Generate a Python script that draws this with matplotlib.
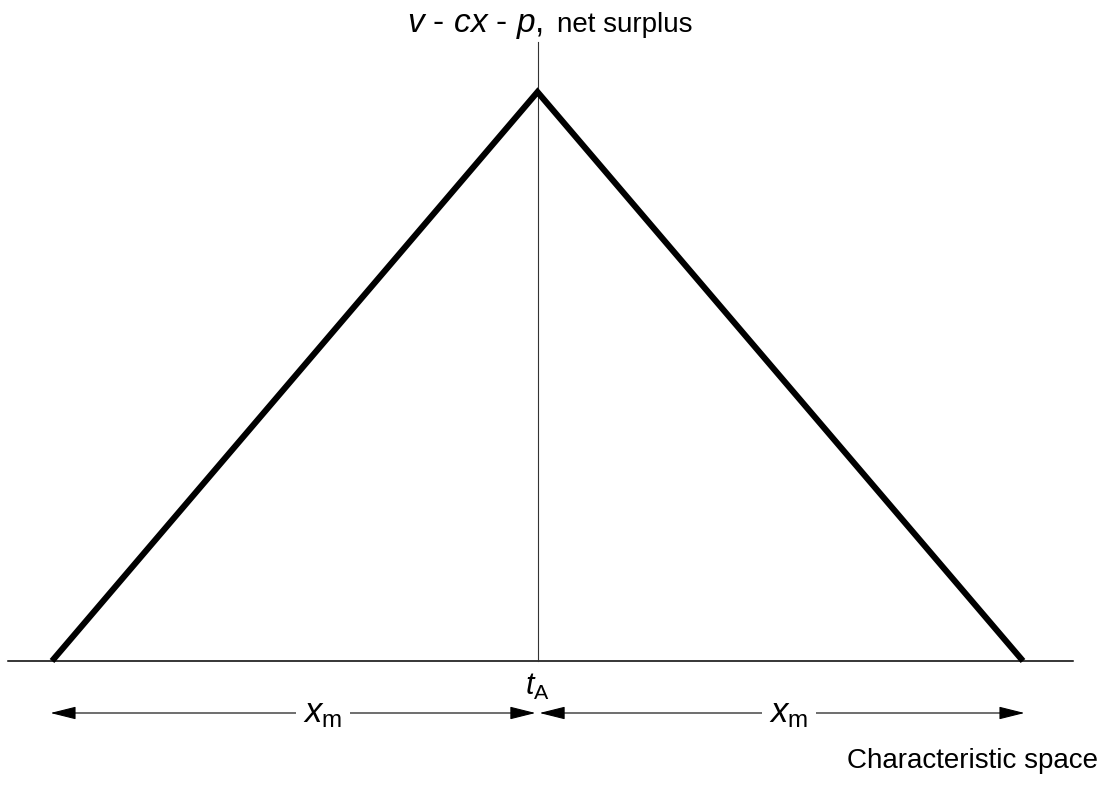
import matplotlib

matplotlib.use("Agg")
import matplotlib.pyplot as plt

"""
Net surplus of a consumer along the characteristic space around brand A
"""

plt.rcParams["font.family"] = ["Liberation Sans", "DejaVu Sans"]
plt.rcParams["mathtext.fontset"] = "custom"
plt.rcParams["mathtext.rm"] = "Liberation Sans"
plt.rcParams["mathtext.it"] = "Liberation Sans:italic"

# location of brand A and the market reach on each side
T_A = 0.0
X_M = 1.0
# net surplus at the brand location
PEAK = 1.0

surplus_x = [T_A - X_M, T_A, T_A + X_M]
surplus_y = [0.0, PEAK, 0.0]

# labels
Y_LABEL_MATH = r"$v$ - $cx$ - $p$,"
Y_LABEL_TEXT = "net surplus"
X_LABEL = "Characteristic space"
BRAND_LABEL = r"$t_{\mathrm{A}}$"
REACH_LABEL = r"$x_{\mathrm{m}}$"

# figure layout in pixels (origin at t_A, base line)
W, H = 1106, 785
X0_PX, Y0_PX = 537.5, 661
SX, SY = 485.5, 569


def px(x, y):
    """pixel position (from top-left) to data coordinates"""
    return (x - X0_PX) / SX, (Y0_PX - y) / SY


def main():
    fig = plt.figure(figsize=(W / 100, H / 100), dpi=100)
    ax = fig.add_axes([0, 0, 1, 1])
    ax.set_xlim(-X0_PX / SX, (W - X0_PX) / SX)
    ax.set_ylim(-(H - Y0_PX) / SY, Y0_PX / SY)
    ax.axis("off")

    # axes
    xa, _ = px(8, 0)
    xb, _ = px(1073, 0)
    ax.plot([xa, xb], [0, 0], color="black", lw=1.1)
    _, ytop = px(0, 42)
    ax.plot([T_A, T_A], [0, ytop], color="#333333", lw=0.8)

    # net surplus
    ax.plot(
        surplus_x,
        surplus_y,
        color="black",
        lw=4.4,
        solid_joinstyle="miter",
        solid_capstyle="butt",
    )

    # reach arrows, the outer tips reach a little past the feet
    _, ya = px(0, 713)
    ext = 1.5 / SX
    arrow = dict(
        arrowstyle="<|-|>,head_length=0.8,head_width=0.2",
        mutation_scale=20,
        color="black",
        lw=0.8,
        shrinkA=1.5,
        shrinkB=0,
    )
    ax.annotate("", xy=(T_A - X_M - ext, ya), xytext=(T_A, ya), arrowprops=arrow)
    ax.annotate("", xy=(T_A + X_M + ext, ya), xytext=(T_A, ya), arrowprops=arrow)

    box = dict(fc="white", ec="none", pad=5)
    for xp in (323, 789):
        x, y = px(xp, 722)
        ax.text(x, y, REACH_LABEL, fontsize=25, ha="center", va="baseline", bbox=box)

    x, y = px(537, 695)
    ax.text(x, y, BRAND_LABEL, fontsize=22, ha="center", va="baseline")

    x, y = px(543, 32)
    ax.text(x, y, Y_LABEL_MATH, fontsize=24, ha="right", va="baseline")
    x, y = px(557, 32)
    ax.text(x, y, Y_LABEL_TEXT, fontsize=20, ha="left", va="baseline")

    x, y = px(1098, 768)
    ax.text(x, y, X_LABEL, fontsize=20, ha="right", va="baseline")

    fig.savefig("out.png", dpi=100, facecolor="white")


if __name__ == "__main__":
    main()
